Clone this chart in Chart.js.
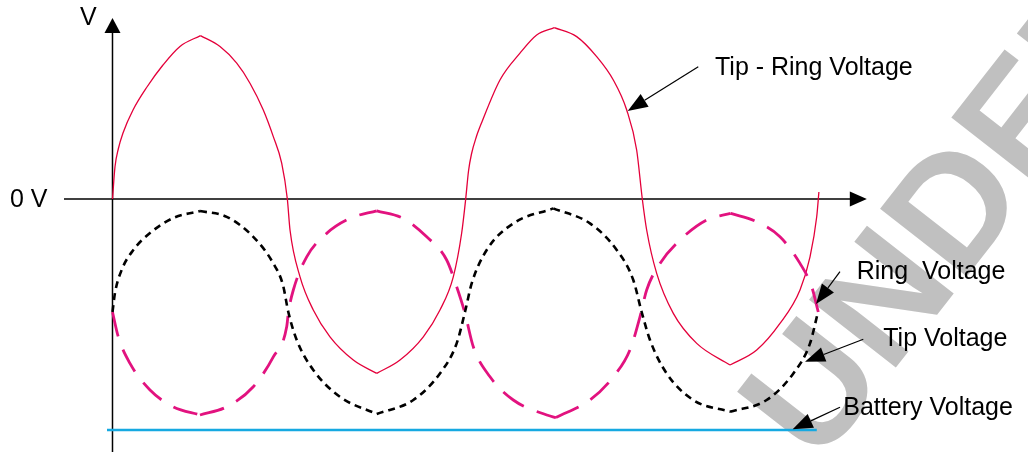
<!DOCTYPE html>
<html>
<head>
<meta charset="utf-8">
<script src="https://cdn.jsdelivr.net/npm/chart.js@4"></script>
<style>
  html, body { margin: 0; padding: 0; background: #ffffff; }
  #wrap { width: 1028px; height: 454px; }
</style>
</head>
<body>
<div id="wrap"><canvas id="c" width="1028" height="454"></canvas></div>
<script>
// ---- Data (time in ms, voltage in V) ----
const tipRingT = [0, 0.35, 0.82, 1.49, 2.91, 4.89, 7.16, 9.57, 12.48, 15.25, 17.62, 19.5, 21.39, 22.81, 24.0, 24.8,
  25.18, 26.6, 28.48, 30.85, 34.16, 37.48, 40.78, 44.09, 46.45, 48.34, 49.53, 50.1,
  50.5, 50.92, 51.6, 52.4, 54.96, 57.8, 60.17, 62.67, 65.84, 68.68, 71.04, 72.94, 74.35, 75.15,
  75.77, 77.19, 79.55, 82.87, 87.59, 91.38, 94.68, 97.52, 98.94, 99.89, 100.2];
const tipRingV = [0, 16, 25, 33, 44.5, 56, 67, 76.3, 81.7, 76.2, 67.9, 57.9, 44.5, 31.2, 17.9, 0,
  -15.5, -38.9, -55.5, -68.9, -80.5, -87.2, -80.5, -68.9, -55.5, -38.9, -17, 0,
  14, 22.5, 31, 38.5, 59.5, 72.9, 82, 85.7, 81.2, 71.2, 59.5, 44.5, 24.5, 0,
  -15.5, -37.2, -57.2, -72.2, -83, -75.5, -62.2, -45.5, -28.9, -8.9, 3.5];

const ringT = [0, 0.35, 1.3, 2.95, 5.32, 8.62, 12.41, 16.2, 19.97, 22.81, 24.18, 24.94,
  26.13, 28.48, 32.27, 37.48, 42.67, 46.45, 48.82, 50.0, 50.95, 53.08, 56.85, 62.52,
  67.73, 71.52, 73.87, 75.06, 76.24, 78.6, 82.38, 87.59, 92.79, 96.57, 98.94, 100.07];
const ringV = [-56.5, -47, -35.5, -25.5, -17, -9.5, -6, -8.9, -18.9, -32.2, -43, -56.5,
  -70.5, -85.5, -98.9, -107.5, -100.5, -87.2, -72.2, -56.5, -42.2, -25.5, -12.2, -4.7,
  -12.2, -25.5, -40.5, -56.5, -70.5, -87.2, -100.5, -106.4, -100.5, -87.2, -72.2, -56.5];

const tipT = [0, 0.82, 2.48, 5.32, 8.62, 12.41, 16.2, 19.97, 22.81, 24.71, 24.96,
  25.65, 27.55, 30.38, 33.69, 37.48, 41.25, 44.57, 47.4, 48.82, 50.0,
  51.18, 53.55, 56.85, 61.6, 62.9, 67.73, 71.04, 73.4, 74.82,
  75.77, 77.66, 80.5, 84.28, 87.69, 91.38, 94.68, 97.52, 99.18, 100.11];
const tipV = [-56.5, -68.9, -82.2, -95.5, -103.9, -108, -103.9, -93.9, -78.9, -63.9, -56.5,
  -45.5, -28.9, -17.2, -9.7, -5.9, -9.7, -18.9, -30.5, -43.9, -57.2,
  -73.9, -88.9, -100.5, -108, -109.3, -100.5, -88.9, -75.5, -58.9,
  -45.5, -32.2, -20.5, -10.5, -7.2, -11.4, -18.9, -32.2, -43.9, -56.5];

const batteryT = [-0.78, 99.9];
const batteryV = [-115.5, -115.5];

// Axis / label text
const yAxisLabel = "V";
const zeroLabel = "0 V";
const seriesLabels = ["Tip - Ring Voltage", "Ring  Voltage", "Tip Voltage", "Battery Voltage"];
const watermarkText = "UNDER DEVELOPMENT";

// ---- Build datasets ----
function pts(t, v) { return t.map((x, i) => ({ x: x, y: v[i] })); }

// split a series at its peaks/troughs so each arc is smooth and peaks stay pointed
function arcs(t, v) {
  const cut = [0];
  for (let i = 1; i < v.length - 1; i++) {
    if ((v[i] - v[i - 1]) * (v[i + 1] - v[i]) < 0) cut.push(i);
  }
  cut.push(v.length - 1);
  const out = [];
  for (let k = 0; k < cut.length - 1; k++) {
    out.push(pts(t.slice(cut[k], cut[k + 1] + 1), v.slice(cut[k], cut[k + 1] + 1)));
  }
  return out;
}

function seriesDatasets(label, t, v, style) {
  return arcs(t, v).map((d, i) => Object.assign({
    label: label + (i ? ' ' + i : ''),
    data: d,
    cubicInterpolationMode: 'monotone'
  }, style));
}

const FONT = '25px "Liberation Sans", Arial, sans-serif';

// annotation anchors in data coordinates: text position, arrow start, arrow tip
const annotations = [
  { text: seriesLabels[0], tx: 85.46, ty: 62, ax: 83.09, ay: 66.15, bx: 73.08, by: 44 },
  { text: seriesLabels[1], tx: 105.56, ty: -40.15, ax: 103.19, ay: -36.35, bx: 99.79, by: -52.5 },
  { text: seriesLabels[2], tx: 109.33, ty: -73.5, ax: 106.5, ay: -70.15, bx: 98.23, by: -81.35 },
  { text: seriesLabels[3], tx: 103.66, ty: -108, ax: 103.19, ay: -104.15, bx: 96.48, by: -115.15 }
];

function arrow(ctx, x1, y1, x2, y2, len, half) {
  const ang = Math.atan2(y2 - y1, x2 - x1);
  const bx = x2 - len * Math.cos(ang), by = y2 - len * Math.sin(ang);
  ctx.beginPath();
  ctx.moveTo(x1, y1);
  ctx.lineTo(bx, by);
  ctx.stroke();
  ctx.beginPath();
  ctx.moveTo(x2, y2);
  ctx.lineTo(bx + half * Math.sin(ang), by - half * Math.cos(ang));
  ctx.lineTo(bx - half * Math.sin(ang), by + half * Math.cos(ang));
  ctx.closePath();
  ctx.fill();
}

const diagramPlugin = {
  id: 'diagram',
  beforeDraw(chart) {
    const ctx = chart.ctx;
    ctx.save();
    ctx.fillStyle = '#ffffff';
    ctx.fillRect(0, 0, chart.width, chart.height);
    // watermark
    ctx.translate(818, 467);
    ctx.rotate(-52 * Math.PI / 180);
    ctx.fillStyle = '#c0c0c0';
    ctx.font = 'bold 160px "Liberation Sans", Arial, sans-serif';
    ctx.textBaseline = 'alphabetic';
    ctx.fillText(watermarkText, 0, 0);
    ctx.restore();
  },
  beforeDatasetsDraw(chart) {
    const ctx = chart.ctx;
    const xs = chart.scales.x, ys = chart.scales.y;
    const x0 = xs.getPixelForValue(0), y0 = ys.getPixelForValue(0);
    ctx.save();
    ctx.strokeStyle = '#000';
    ctx.fillStyle = '#000';
    ctx.lineWidth = 1.5;
    // x axis
    const xl = xs.getPixelForValue(-6.88), xr = xs.getPixelForValue(107.0);
    ctx.beginPath(); ctx.moveTo(xl, y0); ctx.lineTo(xr - 16, y0); ctx.stroke();
    ctx.beginPath(); ctx.moveTo(xr, y0); ctx.lineTo(xr - 17, y0 - 7.5); ctx.lineTo(xr - 17, y0 + 7.5); ctx.closePath(); ctx.fill();
    // y axis
    const yt = ys.getPixelForValue(90.5), yb = ys.getPixelForValue(-126.5);
    ctx.beginPath(); ctx.moveTo(x0, yb); ctx.lineTo(x0, yt + 14); ctx.stroke();
    ctx.beginPath(); ctx.moveTo(x0, yt); ctx.lineTo(x0 - 8, yt + 15); ctx.lineTo(x0 + 8, yt + 15); ctx.closePath(); ctx.fill();
    // axis labels
    ctx.font = FONT;
    ctx.textBaseline = 'alphabetic';
    ctx.textAlign = 'left';
    ctx.fillText(yAxisLabel, xs.getPixelForValue(-4.61), ys.getPixelForValue(87));
    ctx.fillText(zeroLabel, xs.getPixelForValue(-14.54), ys.getPixelForValue(-3.85));
    ctx.restore();
  },
  afterDatasetsDraw(chart) {
    const ctx = chart.ctx;
    const xs = chart.scales.x, ys = chart.scales.y;
    ctx.save();
    ctx.fillStyle = '#000';
    ctx.strokeStyle = '#000';
    ctx.lineWidth = 1.2;
    ctx.font = FONT;
    ctx.textBaseline = 'alphabetic';
    ctx.textAlign = 'left';
    annotations.forEach(a => {
      ctx.fillText(a.text, xs.getPixelForValue(a.tx), ys.getPixelForValue(a.ty));
      arrow(ctx, xs.getPixelForValue(a.ax), ys.getPixelForValue(a.ay),
            xs.getPixelForValue(a.bx), ys.getPixelForValue(a.by), 20, 7.5);
    });
    ctx.restore();
  }
};

const datasets = [].concat(
  [{ label: seriesLabels[3], data: pts(batteryT, batteryV), borderColor: '#16a9e1', borderWidth: 2.5 }],
  seriesDatasets(seriesLabels[1], ringT, ringV, { borderColor: '#000000', borderWidth: 2.6, borderDash: [7, 5] }),
  seriesDatasets(seriesLabels[2], tipT, tipV, { borderColor: '#e2127f', borderWidth: 2.8, borderDash: [25, 14] }),
  seriesDatasets(seriesLabels[0], tipRingT, tipRingV, { borderColor: '#e4003a', borderWidth: 1.3 })
);

new Chart(document.getElementById('c'), {
  type: 'line',
  data: { datasets: datasets },
  options: {
    responsive: false,
    devicePixelRatio: 1,
    animation: false,
    layout: { padding: 0 },
    elements: { point: { radius: 0 }, line: { tension: 0.4, fill: false } },
    plugins: { legend: { display: false }, tooltip: { enabled: false }, title: { display: false } },
    scales: {
      x: { type: 'linear', display: false, min: -15.957, max: 129.86 },
      y: { type: 'linear', display: false, min: -127.5, max: 99.5 }
    }
  },
  plugins: [diagramPlugin]
});
</script>
</body>
</html>
